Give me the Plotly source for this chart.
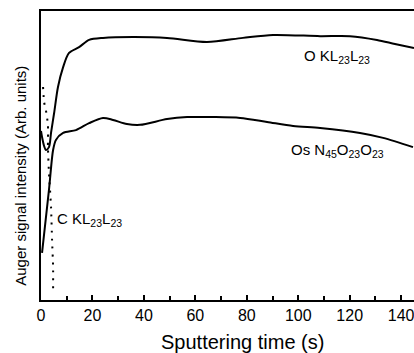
import plotly.graph_objects as go

# O KL23L23 signal
o_time = [0, 0.4, 1.2, 1.9, 3.1, 3.9, 5.1, 6.6, 8.6, 10.9, 14.8, 18.7, 24.1, 35.8, 49, 64.5, 78.5, 90.2, 108.5, 120.1, 130.6, 137.6, 145]
o_sig = [58.5, 56.4, 53.3, 51.9, 52.9, 57.8, 64.7, 73.7, 80.6, 85.5, 87.5, 90, 90.7, 91, 90.7, 89.3, 90.7, 91.7, 91.3, 91.3, 90, 88.6, 87.2]

# Os N45O23O23 signal
os_time = [0.4, 3.1, 4.7, 5.8, 8.6, 13.6, 18.7, 24.1, 28, 33.4, 38.5, 49, 56.8, 66.9, 77.4, 87.9, 98, 108.5, 124, 133, 144.6]
os_sig = [16.3, 38.1, 51.9, 55.4, 57.8, 58.8, 61.2, 63, 62.3, 60.9, 60.6, 62.6, 63.3, 63.3, 63, 61.6, 60.2, 59.5, 57.8, 56.1, 52.9]

# C KL23L23 signal
c_time = [0.8, 1.2, 1.9, 2.7, 2.7, 3.1, 3.9, 4.3, 4.7, 4.7]
c_sig = [73.7, 68.5, 65.7, 60.5, 52.9, 43.9, 32.2, 20.8, 11.4, 2.4]

x_ticks = [0, 20, 40, 60, 80, 100, 120, 140]

FONT = "Liberation Sans, Arial, sans-serif"

fig = go.Figure()
fig.add_trace(go.Scatter(x=o_time, y=o_sig, mode="lines",
                         line=dict(color="black", width=2, shape="spline", smoothing=0.8),
                         hoverinfo="skip"))
fig.add_trace(go.Scatter(x=os_time, y=os_sig, mode="lines",
                         line=dict(color="black", width=2, shape="spline", smoothing=0.8),
                         hoverinfo="skip"))
fig.add_trace(go.Scatter(x=c_time, y=c_sig, mode="lines",
                         line=dict(color="black", width=2, shape="spline", smoothing=0.6, dash="2px,6px"),
                         hoverinfo="skip"))

fig.add_annotation(x=101.5, y=84.1, xanchor="left", yanchor="middle", showarrow=False,
                   text="O KL<sub>23</sub>L<sub>23</sub>", font=dict(family=FONT, size=15, color="black"))
fig.add_annotation(x=96.4, y=51.6, xanchor="left", yanchor="middle", showarrow=False,
                   text="Os N<sub>45</sub>O<sub>23</sub>O<sub>23</sub>", font=dict(family=FONT, size=15, color="black"))
fig.add_annotation(x=5.4, y=27.7, xanchor="left", yanchor="middle", showarrow=False,
                   text="C KL<sub>23</sub>L<sub>23</sub>", font=dict(family=FONT, size=15, color="black"))

fig.add_annotation(xref="paper", yref="paper", x=-0.0536, y=0.43, textangle=-90,
                   showarrow=False, xanchor="center", yanchor="middle",
                   text="Auger signal intensity (Arb. units)",
                   font=dict(family=FONT, size=15, color="black"))
fig.add_annotation(xref="paper", yref="paper", x=0.539, y=-0.145,
                   showarrow=False, xanchor="center", yanchor="middle",
                   text="Sputtering time (s)",
                   font=dict(family=FONT, size=20, color="black"))

fig.update_layout(
    width=414, height=353,
    margin=dict(l=41, r=0, t=11, b=53, autoexpand=False),
    paper_bgcolor="white", plot_bgcolor="white",
    showlegend=False,
    font=dict(family=FONT, color="black"),
    xaxis=dict(range=[0, 145], tickvals=x_ticks, ticks="inside", ticklen=5, tickwidth=1.5,
               tickcolor="black", showline=True, linecolor="black", linewidth=1.5, mirror=True,
               showgrid=False, zeroline=False, automargin=False, ticklabeloverflow="allow",
               tickfont=dict(family=FONT, size=16, color="black"),
               minor=dict(dtick=10, ticks="inside", ticklen=4, tickwidth=1.5, tickcolor="black")),
    yaxis=dict(range=[0, 100], showticklabels=False, ticks="", showline=True, linecolor="black",
               linewidth=1.5, showgrid=False, zeroline=False, automargin=False),
)

fig.write_html("out.html", config={"displayModeBar": False},
               post_script="document.body.style.margin='0';document.body.style.padding='0';document.body.style.overflow='hidden';")
